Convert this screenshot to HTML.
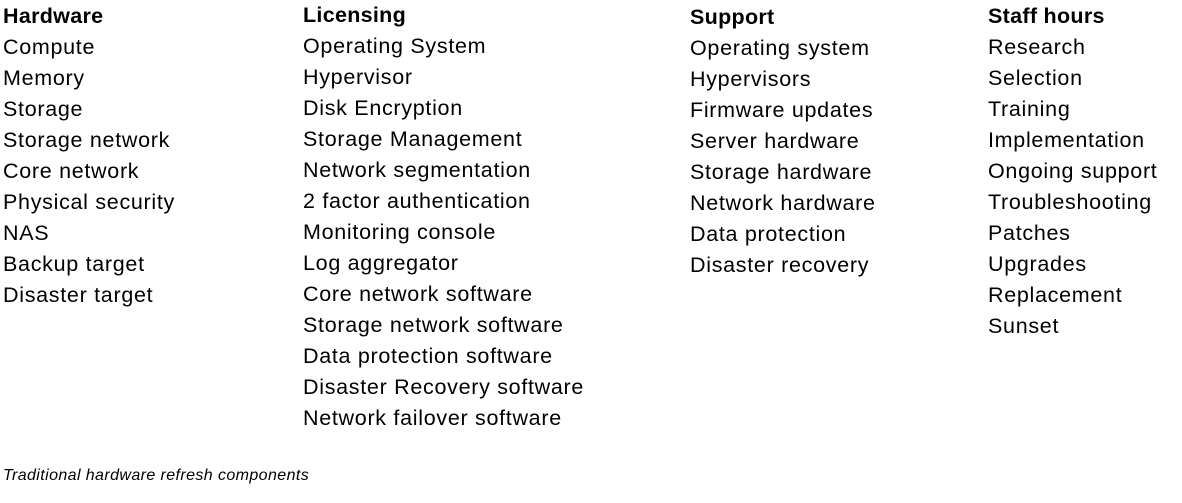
<!DOCTYPE html>
<html><head><meta charset="utf-8"><style>
body{margin:0;width:1182px;height:503px;background:#fff;position:relative;overflow:hidden;font-family:"Liberation Sans",sans-serif;color:#000}
.c{position:absolute;font-size:21.5px;letter-spacing:0.7px;line-height:31px;white-space:nowrap}
.c b{font-weight:bold;letter-spacing:0.3px}
.cap{position:absolute;left:3px;top:466px;font-size:16px;letter-spacing:0.4px;font-style:italic;line-height:20px}
</style></head><body>
<div class="c" style="left:3px;top:1px"><b>Hardware</b><br>Compute<br>Memory<br>Storage<br>Storage network<br>Core network<br>Physical security<br>NAS<br>Backup target<br>Disaster target</div>
<div class="c" style="left:303px;top:0px"><b>Licensing</b><br>Operating System<br>Hypervisor<br>Disk Encryption<br>Storage Management<br>Network segmentation<br>2 factor authentication<br>Monitoring console<br>Log aggregator<br>Core network software<br>Storage network software<br>Data protection software<br>Disaster Recovery software<br>Network failover software</div>
<div class="c" style="left:690px;top:2px"><b>Support</b><br>Operating system<br>Hypervisors<br>Firmware updates<br>Server hardware<br>Storage hardware<br>Network hardware<br>Data protection<br>Disaster recovery</div>
<div class="c" style="left:988px;top:1px"><b>Staff hours</b><br>Research<br>Selection<br>Training<br>Implementation<br>Ongoing support<br>Troubleshooting<br>Patches<br>Upgrades<br>Replacement<br>Sunset</div>
<div class="cap">Traditional hardware refresh components</div>
</body></html>
